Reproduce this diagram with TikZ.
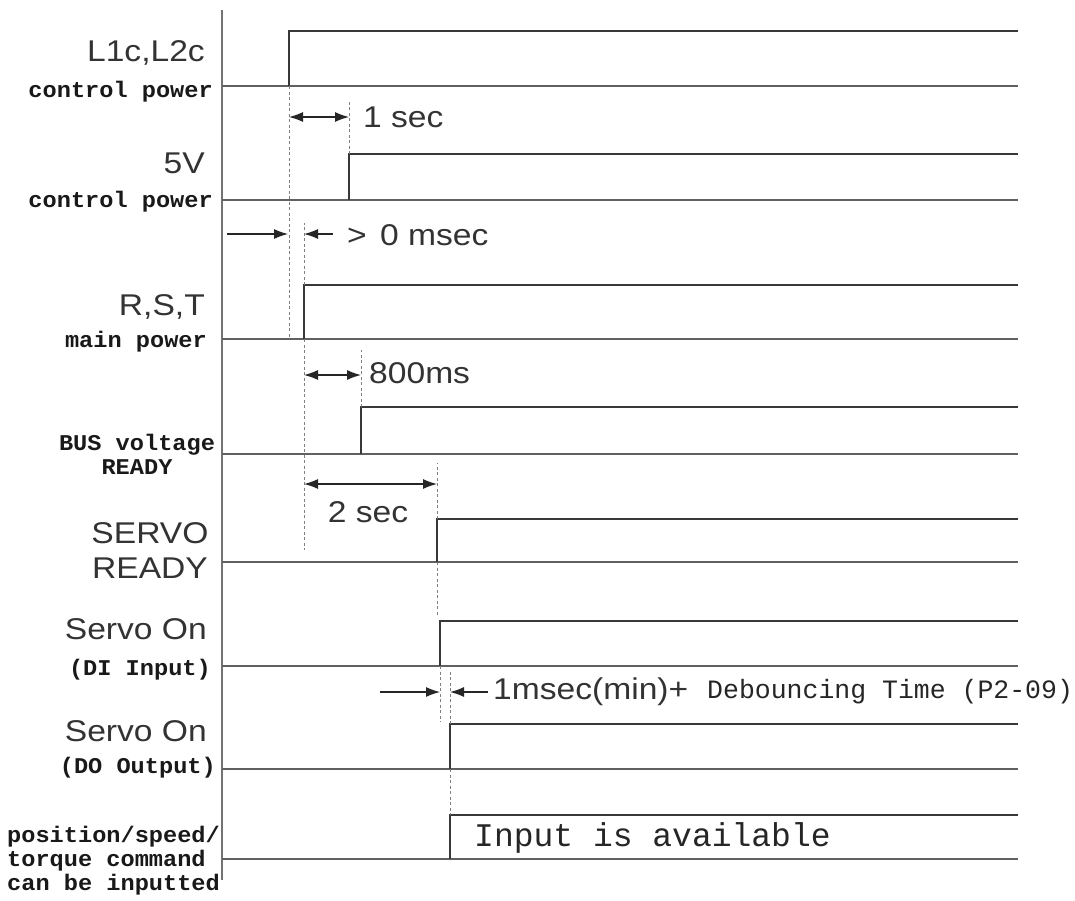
\documentclass[tikz,border=0pt]{standalone}
\usepackage{fontspec}
\usetikzlibrary{arrows.meta}
\newfontfamily\sansLbl[FakeStretch=1.12]{Liberation Sans}
\newfontfamily\monoLbl{Liberation Mono}
\newfontfamily\monoWide[FakeStretch=1.05]{Liberation Mono}
\begin{document}
\begin{tikzpicture}[x=1pt,y=-1pt,
  sig/.style={line width=2pt, draw=black!78, line join=miter},
  base/.style={line width=1.3pt, draw=black!62},
  axisline/.style={line width=1.6pt, draw=black!55},
  guide/.style={draw=black!50, line width=0.7pt, dash pattern=on 3pt off 2.5pt},
  dim/.style={line width=1.2pt, draw=black!85},
  tip/.style={-{Latex[length=14pt,width=10pt]}},
  tips/.style={{Latex[length=14pt,width=10pt]}-{Latex[length=14pt,width=10pt]}},
  big/.style={font=\sansLbl\fontsize{30}{35}\selectfont, text=black!80, inner sep=0pt},
  small/.style={font=\monoWide\bfseries\fontsize{22.5}{24}\selectfont, text=black!90, inner sep=0pt},
  monotxt/.style={font=\monoLbl\fontsize{26.5}{28}\selectfont, text=black!85, inner sep=0pt},
  monobig/.style={font=\monoLbl\fontsize{33}{36}\selectfont, text=black!85, inner sep=0pt}]
\fill[white] (0,0) rectangle (1075,900);
\useasboundingbox (0,0) rectangle (1075,900);

% axis
\coordinate (axtop) at (222,10);
\coordinate (axbot) at (222,880);
\draw[axisline] (axtop) -- (axbot);

% signals: index / low y / high y / rise x
\foreach \i/\lo/\hi/\rx in {1/86/31/289, 2/200/154/349, 3/339/285/304, 4/454/407/361,
                            5/562/519/437, 6/666/621/440, 7/769/724/450, 8/859/815/450}{
  \coordinate (b\i) at (222,\lo);
  \coordinate (e\i) at (1018,\lo);
  \coordinate (r\i) at (\rx,\lo);
  \coordinate (t\i) at (\rx,\hi);
  \coordinate (h\i) at (1018,\hi);
  \draw[base] (b\i) -- (e\i);
  \draw[sig] (r\i) -- (t\i) -- (h\i);
}

% guide lines
\draw[guide] (r1) -- (r1 |- r3);
\draw[guide] (t2) -- ++(0,-54);
\draw[guide] (t3) -- ++(0,-62);
\draw[guide] (r3) -- ++(0,211);
\draw[guide] (t4) -- ++(0,-57);
\draw[guide] (t5) -- ++(0,-56);
\draw[guide] (r5) -- ++(0,53);
\draw[guide] (r6) -- ++(0,56);
\draw[guide] (t7) -- ++(0,-55);
\draw[guide] (r7) -- (t8);

% 1 sec
\coordinate (a1l) at (289,117);
\coordinate (a1r) at (349,117);
\draw[dim,tips] (a1l) -- (a1r);
\node[big, anchor=west] (lab1sec) at (363,117) {1 sec};

% > 0 msec
\coordinate (a2a) at (227,234);
\coordinate (a2b) at (288,234);
\coordinate (a2c) at (333,234);
\coordinate (a2d) at (304,234);
\draw[dim,tip] (a2a) -- (a2b);
\draw[dim,tip] (a2c) -- (a2d);
\node[big, anchor=west] (lab0ms) at (347,235) {>\hspace{4pt} 0 msec};

% 800ms
\coordinate (a3l) at (304,375);
\coordinate (a3r) at (361,375);
\draw[dim,tips] (a3l) -- (a3r);
\node[big, anchor=west] (lab800) at (369,373) {800ms};

% 2 sec
\coordinate (a4l) at (304,484);
\coordinate (a4r) at (437,484);
\draw[dim,tips] (a4l) -- (a4r);
\node[big] (lab2sec) at (368,512) {2 sec};

% 1msec
\coordinate (a5a) at (380,692);
\coordinate (a5b) at (440,692);
\coordinate (a5c) at (488,692);
\coordinate (a5d) at (450,692);
\draw[dim,tip] (a5a) -- (a5b);
\draw[dim,tip] (a5c) -- (a5d);
\node[big, anchor=west] (lab1ms) at (493,692) {1msec(min)+};
\node[monotxt, anchor=west] (labdeb) at (707,692) {Debouncing Time (P2-09)};

% input available
\node[monobig, anchor=west] (labinp) at (474,838) {Input is available};

% left labels
\node[big, anchor=east] (l1) at (205,53) {L1c,L2c};
\node[small, anchor=east] (l1s) at (213,92) {control power};
\node[big, anchor=east] (l2) at (205,163) {5V};
\node[small, anchor=east] (l2s) at (213,202) {control power};
\node[big, anchor=east] (l3) at (205,307) {R,S,T};
\node[small, anchor=east] (l3s) at (207,342) {main power};
\node[small, align=center] (l4) at (137,454) {BUS voltage\\READY};
\node[big, align=center] (l5) at (150,551) {SERVO\\READY};
\node[big, anchor=east] (l6) at (207,629) {Servo On};
\node[small, anchor=east] (l6s) at (211,670) {(DI Input)};
\node[big, anchor=east] (l7) at (207,731) {Servo On};
\node[small, anchor=east] (l7s) at (216,768) {(DO Output)};
\node[small, align=left, anchor=west] (l8) at (7,861) {position/speed/\\torque command\\can be inputted};
\end{tikzpicture}
\end{document}
